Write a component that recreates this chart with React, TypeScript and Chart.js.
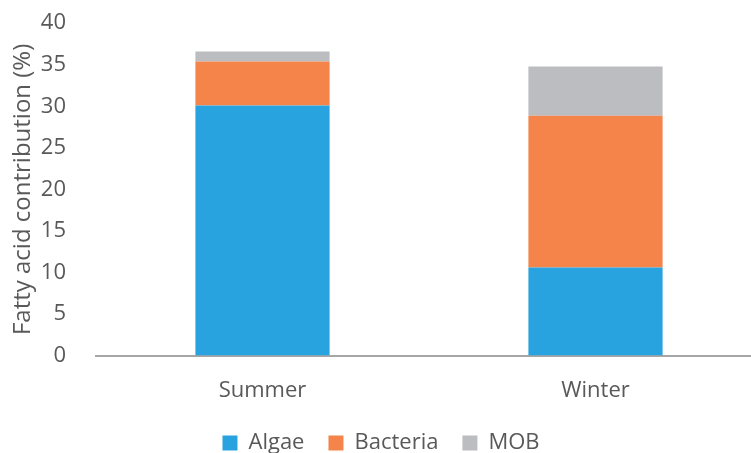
import React, { useEffect, useRef } from "react";
import { Chart, registerables } from "chart.js";

Chart.register(...registerables);

const categories = ["Summer", "Winter"];
const algae = [30.1, 10.6];
const bacteria = [5.3, 18.25];
const mob = [1.2, 5.95];
const yTitle = "Fatty acid contribution (%)";

const FONT = "'Open Sans', sans-serif";
const TEXT = "#595959";
const FS = 22;

export default function App() {
  const ref = useRef<HTMLCanvasElement | null>(null);
  useEffect(() => {
    if (!ref.current) return;
    const chart = new Chart(ref.current, {
      type: "bar",
      data: {
        labels: categories,
        datasets: [
          { label: "Algae", data: algae, backgroundColor: "#29A3DF" },
          { label: "Bacteria", data: bacteria, backgroundColor: "#F4844A" },
          { label: "MOB", data: mob, backgroundColor: "#BCBDC1" },
        ],
      },
      options: {
        responsive: false,
        animation: false,
        datasets: { bar: { barPercentage: 0.403, categoryPercentage: 1 } },
        layout: { padding: { top: 10, right: 8, left: 0, bottom: 2 } },
        plugins: {
          tooltip: { enabled: false },
          legend: {
            position: "bottom",
            labels: {
              boxWidth: 15,
              boxHeight: 15,
              padding: 24,
              color: TEXT,
              font: { family: FONT, size: FS },
            },
          },
        },
        scales: {
          x: {
            stacked: true,
            grid: { display: false },
            border: { color: "#A6A6A6", width: 2 },
            ticks: { color: TEXT, font: { family: FONT, size: FS }, padding: 14 },
            afterFit: (s: any) => { s.height -= 10; },
          },
          y: {
            stacked: true,
            min: 0,
            max: 40,
            ticks: { stepSize: 5, color: TEXT, font: { family: FONT, size: FS }, padding: 22 },
            grid: { display: false },
            border: { display: false },
            title: { display: true, text: yTitle, color: TEXT, font: { family: FONT, size: 24 }, padding: { top: 9, bottom: 0 } },
            afterFit: (s: any) => { s.width = 96; },
          },
        },
      },
    });
    return () => chart.destroy();
  }, []);
  return (
    <div style={{ position: "absolute", left: 0, top: 0, width: 751, height: 453, overflow: "hidden", background: "#fff" }}>
      <canvas ref={ref} width={770} height={478} style={{ position: "absolute", left: 0, top: -12 }} />
    </div>
  );
}
